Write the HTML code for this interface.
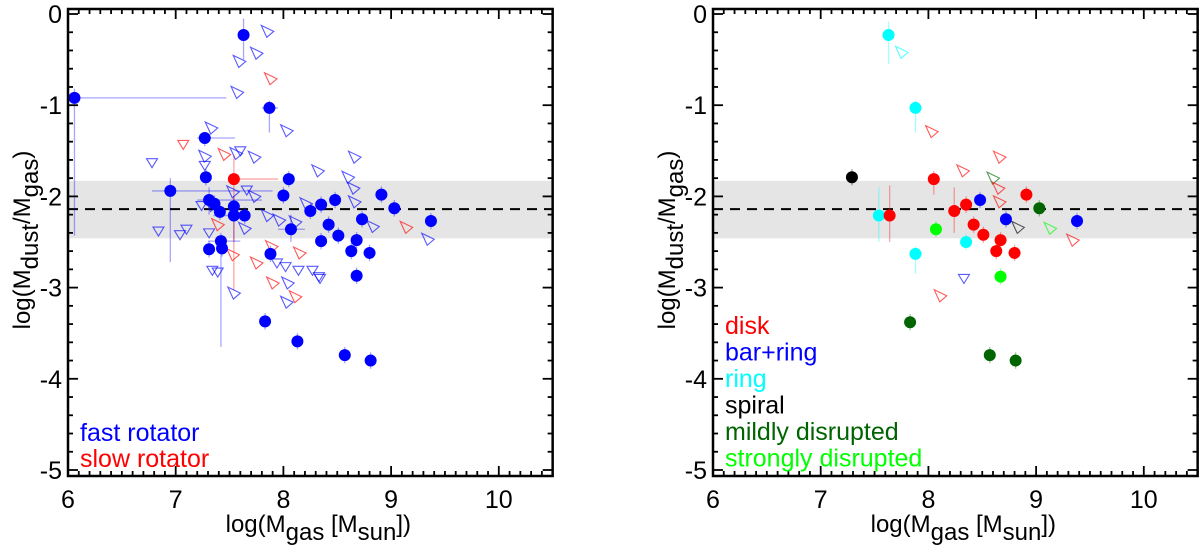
<!DOCTYPE html>
<html><head><meta charset="utf-8"><style>
html,body{margin:0;padding:0;background:#fff;}
svg{display:block;font-family:"Liberation Sans",Arial,sans-serif;}
</style></head><body>
<svg id="fig" width="1200" height="554" viewBox="0 0 1200 554" xmlns="http://www.w3.org/2000/svg">
<g id="left"></g>
<g id="right"></g>
</svg>
<script>
// ---------- shared ----------
const yTicks = [0,-1,-2,-3,-4,-5];
const xTicks = [6,7,8,9,10];
const meanLine = -2.14;
const bandLo = -2.46, bandHi = -1.83;

// ---------- left panel data ----------
const leftCircX = [6.06,7.63,7.87,7.27,7.28,6.95,8.05,8.00,7.31,7.36,7.41,7.54,7.54,7.64,8.25,8.35,8.48,8.42,8.51,8.07,8.35,8.73,8.68,8.63,8.80,8.91,9.03,9.37,7.42,7.43,7.31,7.88,8.68,7.83,8.13,8.57,8.81,7.54];
const leftCircY = [-0.92,-0.23,-1.03,-1.36,-1.79,-1.94,-1.81,-1.99,-2.04,-2.08,-2.17,-2.11,-2.21,-2.21,-2.16,-2.09,-2.04,-2.31,-2.43,-2.36,-2.49,-2.25,-2.48,-2.60,-2.62,-1.98,-2.13,-2.27,-2.49,-2.57,-2.58,-2.63,-2.87,-3.37,-3.59,-3.74,-3.80,-1.81];
const leftCircC = ["f","f","f","f","f","f","f","f","f","f","f","f","f","f","f","f","f","f","f","f","f","f","f","f","f","f","f","f","f","f","f","f","f","f","f","f","f","s"];
const leftErrIdx = [0,5,3,28,37,1,2,8,12,19];
const leftErrXlo = [6.06,6.78,7.20,7.30,7.50,7.60,7.80,7.20,7.35,7.95];
const leftErrXhi = [7.47,7.90,7.55,7.60,7.95,7.66,7.95,7.80,7.60,8.20];
const leftErrYlo = [-2.43,-2.72,-1.45,-3.65,-3.03,-0.50,-1.30,-2.20,-2.50,-2.50];
const leftErrYhi = [-0.82,-1.80,-1.30,-2.40,-1.55,-0.05,-0.95,-1.90,-2.00,-2.20];

const leftTriX = [7.85,7.75,7.59,7.88,7.57,8.03,7.33,7.56,7.27,7.45,7.73,8.66,8.32,8.60,8.65,8.66,7.73,8.21,7.85,7.96,8.11,7.64,7.39,8.83,9.14,9.34,7.53,7.75,8.15,7.89,7.33,7.53,7.54,7.90,8.04,8.03,8.11,
                  7.07,6.78,7.60,7.27,6.84,7.04,7.10,7.31,7.24,7.66,7.94,8.02,8.27,8.14,7.34,7.39,8.34,8.33];
const leftTriY = [-0.19,-0.43,-0.52,-0.71,-0.86,-1.28,-1.25,-1.53,-1.56,-1.54,-1.57,-1.57,-1.72,-1.79,-1.91,-2.06,-2.00,-2.08,-2.21,-2.26,-2.28,-2.35,-2.31,-2.33,-2.34,-2.47,-2.64,-2.73,-2.62,-2.55,-2.10,-1.95,-3.06,-2.95,-2.95,-3.16,-3.10,
                  -1.43,-1.63,-1.50,-1.66,-2.38,-2.42,-2.36,-2.40,-2.10,-1.93,-2.73,-2.77,-2.81,-2.81,-2.81,-2.83,-2.90,-2.88];
const leftTriT = ["s","s","s","s","s","s","s","s","s","s","s","s","s","s","s","s","s","s","s","s","s","s","s","s","s","s","s","s","s","s","s","s","s","s","s","s","s",
                  "d","d","d","d","d","d","d","d","d","d","d","d","d","d","d","d","d","d"];
const leftTriC = ["f","f","f","s","f","f","f","f","f","s","f","f","f","f","f","f","f","f","f","f","f","f","s","f","s","f","s","s","s","s","f","f","f","s","f","f","s",
                  "s","f","f","f","f","f","f","f","f","f","f","f","f","f","f","f","f","f"];
const leftLegend = ["fast rotator","slow rotator"];
const leftLegendC = ["f","s"];

// ---------- right panel data ----------
const rightCircX = [7.63,7.88,7.54,7.88,8.35,7.29,7.64,8.05,8.24,8.35,8.42,8.51,8.67,8.63,8.80,8.91,8.48,8.72,9.38,9.03,7.83,8.57,8.81,8.07,8.67];
const rightCircY = [-0.23,-1.03,-2.21,-2.63,-2.50,-1.79,-2.21,-1.81,-2.16,-2.09,-2.31,-2.42,-2.48,-2.60,-2.62,-1.98,-2.04,-2.25,-2.27,-2.13,-3.38,-3.74,-3.80,-2.36,-2.88];
const rightCircC = ["ring","ring","ring","ring","ring","spiral","disk","disk","disk","disk","disk","disk","disk","disk","disk","disk","bar","bar","bar","mild","mild","mild","mild","strong","strong"];
const rightErrIdx = [0,1,2,3,6,7,8];
const rightErrYlo = [-0.55,-1.30,-2.50,-2.85,-2.50,-1.98,-2.40];
const rightErrYhi = [-0.08,-0.95,-1.90,-2.55,-1.88,-1.72,-1.90];
const rightTriX = [7.75,8.03,8.66,8.32,8.60,8.65,8.66,8.83,9.13,9.34,8.33,8.11];
const rightTriY = [-0.42,-1.29,-1.57,-1.72,-1.80,-1.91,-2.06,-2.34,-2.35,-2.48,-2.90,-3.09];
const rightTriT = ["s","s","s","s","s","s","s","s","s","s","d","s"];
const rightTriC = ["ring","disk","disk","disk","mild","disk","disk","spiral","strong","disk","bar","disk"];
const rightLegend = ["disk","bar+ring","ring","spiral","mildly disrupted","strongly disrupted"];
const rightLegendC = ["disk","bar","ring","spiral","mild","strong"];

const colors = {f:"#0000ff",s:"#ff0000",disk:"#ff0000",bar:"#0000ff",ring:"#00ffff",spiral:"#000000",mild:"#006400",strong:"#00ff00"};
const NS = "http://www.w3.org/2000/svg";

const TOP = 9, BOT = 476;
function yScale(v){ return 14 - v*91.2; }
function mk(tag, attrs, parent){
  const e = document.createElementNS(NS, tag);
  for (const k in attrs) e.setAttribute(k, attrs[k]);
  parent.appendChild(e);
  return e;
}
function triPts(cx, cy, t){
  if (t === "d") return [[cx-5.5,cy-4],[cx+5.5,cy-4],[cx,cy+5]].map(p=>p.join(",")).join(" ");
  return [[cx-6,cy-6],[cx+6.5,cy],[cx-0.5,cy+6]].map(p=>p.join(",")).join(" ");
}

function drawPanel(g, x0, cfg){
  const xScale = v => x0 + (v-6)*107.7;
  const L = x0, R = xScale(10.5);
  const band = mk("rect",{x:L,y:yScale(bandHi),width:R-L,height:yScale(bandLo)-yScale(bandHi),fill:"#e5e5e5"},g);
  
  
  const ml = mk("line",{x1:L,x2:R,y1:yScale(meanLine),y2:yScale(meanLine),stroke:"#000","stroke-width":2,"stroke-dasharray":"10,7"},g);
  
  

  const eg = mk("g",{},g);
  
  
  cfg.circX.forEach((xv,i)=>{
    const c = colors[cfg.circC[i]];
    const k = cfg.errIdx.indexOf(i);
    let ylo = cfg.circY[i]-0.09, yhi = cfg.circY[i]+0.09;
    if (k >= 0){ ylo = cfg.errYlo[k]; yhi = cfg.errYhi[k]; }
    const vl = mk("line",{x1:xScale(xv),x2:xScale(xv),y1:yScale(ylo),y2:yScale(yhi),stroke:c,"stroke-opacity":0.35,"stroke-width":1.3},eg);
    
    
    if (k >= 0 && cfg.errXlo){
      const hl = mk("line",{x1:xScale(cfg.errXlo[k]),x2:xScale(cfg.errXhi[k]),y1:yScale(cfg.circY[i]),y2:yScale(cfg.circY[i]),stroke:c,"stroke-opacity":0.35,"stroke-width":1.3},eg);
      
      
    }
  });
  cfg.triX.forEach((xv,i)=>{
    const p = mk("polygon",{points:triPts(xScale(xv),yScale(cfg.triY[i]),cfg.triT[i]),fill:"none",stroke:colors[cfg.triC[i]],"stroke-opacity":0.65,"stroke-width":1.1},g);
    
    
  });
  cfg.circX.forEach((xv,i)=>{
    const c = mk("circle",{cx:xScale(xv),cy:yScale(cfg.circY[i]),r:6,fill:colors[cfg.circC[i]]},g);
    
    
  });

  const fr = mk("rect",{x:L,y:TOP,width:R-L,height:BOT-TOP,fill:"none",stroke:"#000","stroke-width":2.5},g);
  
  
  for (let v=6; v<=10.5001; v+=0.1){
    const major = Math.abs(v-Math.round(v))<1e-6;
    const len = major?10:5;
    mk("line",{x1:xScale(v),x2:xScale(v),y1:BOT,y2:BOT-len,stroke:"#000","stroke-width":1.8},g);
    mk("line",{x1:xScale(v),x2:xScale(v),y1:TOP,y2:TOP+len,stroke:"#000","stroke-width":1.8},g);
  }
  for (let v=0; v>=-5.0001; v-=0.2){
    const major = Math.abs(v-Math.round(v))<1e-6;
    const len = major?10:5;
    mk("line",{x1:L,x2:L+len,y1:yScale(v),y2:yScale(v),stroke:"#000","stroke-width":1.8},g);
    mk("line",{x1:R,x2:R-len,y1:yScale(v),y2:yScale(v),stroke:"#000","stroke-width":1.8},g);
  }
  xTicks.forEach(v=>{
    const t = mk("text",{x:xScale(v),y:508,"text-anchor":"middle","font-size":25},g);
    t.textContent = v;
    
    
  });
  yTicks.forEach(v=>{
    const t = mk("text",{x:L-6,y:yScale(v)+9,"text-anchor":"end","font-size":25},g);
    t.textContent = v;
    
    
  });
  const xt = mk("text",{x:(L+R)/2+8,y:532,"text-anchor":"middle","font-size":24},g);
  xt.innerHTML = 'log(M<tspan dy="8">gas</tspan><tspan dy="-8"> [M</tspan><tspan dy="8">sun</tspan><tspan dy="-8">])</tspan>';
  
  
  const yt = mk("text",{x:0,y:0,"text-anchor":"middle","font-size":24,transform:`translate(${L-38},240) rotate(-90)`},g);
  yt.innerHTML = 'log(M<tspan dy="8">dust</tspan><tspan dy="-8">/M</tspan><tspan dy="8">gas</tspan><tspan dy="-8">)</tspan>';
  
  
  cfg.legend.forEach((s,i)=>{
    const t = mk("text",{x:L+12,y:cfg.legY+i*cfg.legDy,"font-size":cfg.legFs,fill:colors[cfg.legendC[i]]},g);
    t.textContent = s;
    
    
  });
}

drawPanel(document.getElementById("left"), 68, {
  circX:leftCircX, circY:leftCircY, circC:leftCircC,
  errIdx:leftErrIdx, errXlo:leftErrXlo, errXhi:leftErrXhi, errYlo:leftErrYlo, errYhi:leftErrYhi,
  triX:leftTriX, triY:leftTriY, triT:leftTriT, triC:leftTriC,
  legend:leftLegend, legendC:leftLegendC, legY:441, legDy:26, legFs:25
});
drawPanel(document.getElementById("right"), 713, {
  circX:rightCircX, circY:rightCircY, circC:rightCircC,
  errIdx:rightErrIdx, errXlo:null, errXhi:null, errYlo:rightErrYlo, errYhi:rightErrYhi,
  triX:rightTriX, triY:rightTriY, triT:rightTriT, triC:rightTriC,
  legend:rightLegend, legendC:rightLegendC, legY:334, legDy:26.5, legFs:25
});
</script>
</body></html>
